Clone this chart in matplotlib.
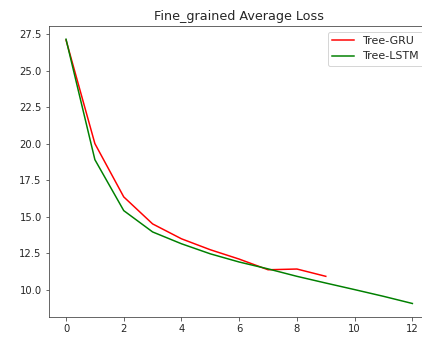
import matplotlib
matplotlib.use("Agg")
import matplotlib.pyplot as plt

# epochs and average loss per model
gru_epochs = list(range(10))
gru_loss = [27.1, 20.0, 16.35, 14.5, 13.48, 12.73, 12.09, 11.36, 11.41, 10.91]

lstm_epochs = list(range(13))
lstm_loss = [27.15, 18.9, 15.41, 13.95, 13.14, 12.45, 11.89, 11.42, 10.91, 10.45, 10.0, 9.54, 9.05]

plt.rcParams['text.color'] = '#262626'
plt.rcParams['xtick.color'] = '#444444'
plt.rcParams['ytick.color'] = '#444444'
plt.rcParams['xtick.labelcolor'] = '#262626'
plt.rcParams['ytick.labelcolor'] = '#262626'
plt.rcParams['axes.edgecolor'] = '#444444'

fig = plt.figure(figsize=(422 / 72, 338 / 72), dpi=72)
# axes run slightly past the right edge, as in the cropped original
ax = fig.add_axes([48.7 / 422, 21.3 / 338, 381 / 422, 290.7 / 338])

ax.plot(gru_epochs, gru_loss, color='red', label='Tree-GRU')
ax.plot(lstm_epochs, lstm_loss, color='green', label='Tree-LSTM')

ax.set_title('Fine_grained Average Loss', fontsize=12.8)
ax.legend(loc='upper right', fontsize=11)

fig.savefig('out.png', dpi=72)
